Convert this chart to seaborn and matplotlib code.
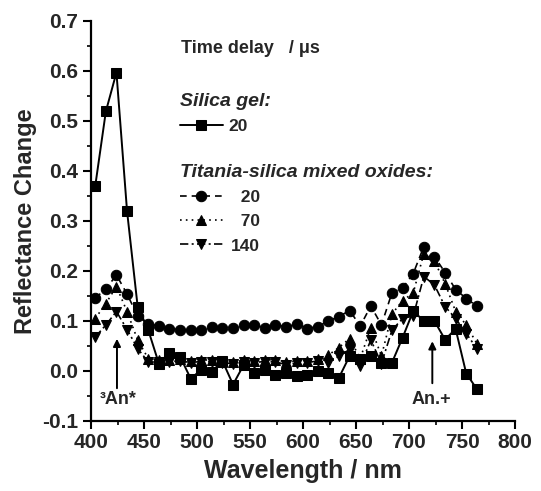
import numpy as np
import pandas as pd
import matplotlib
matplotlib.use("Agg")
import matplotlib.pyplot as plt
import seaborn as sns

# ---------------- data ----------------
wavelength = [404 + 10 * i for i in range(37)]

silica_20 = [0.370, 0.519, 0.597, 0.320, 0.129, 0.082, 0.015, 0.037, 0.029, -0.015,
             0.002, -0.001, 0.020, -0.027, 0.012, -0.003, 0.002, -0.008, -0.004, -0.010,
             -0.008, 0.001, -0.003, -0.013, 0.030, 0.025, 0.030, 0.016, 0.017, 0.067,
             0.120, 0.100, 0.100, 0.063, 0.084, -0.005, -0.036]

titania_20 = [0.146, 0.164, 0.192, 0.154, 0.110, 0.094, 0.090, 0.085, 0.082, 0.082,
              0.083, 0.089, 0.087, 0.087, 0.092, 0.092, 0.087, 0.093, 0.088, 0.094,
              0.085, 0.089, 0.100, 0.109, 0.121, 0.090, 0.130, 0.092, 0.157, 0.166,
              0.195, 0.249, 0.229, 0.197, 0.163, 0.145, 0.130]

titania_70 = [0.105, 0.135, 0.169, 0.119, 0.062, 0.025, 0.022, 0.022, 0.025, 0.020,
              0.022, 0.022, 0.019, 0.018, 0.022, 0.020, 0.022, 0.023, 0.018, 0.020,
              0.020, 0.024, 0.032, 0.047, 0.065, 0.025, 0.087, 0.030, 0.114, 0.141,
              0.156, 0.235, 0.220, 0.175, 0.119, 0.092, 0.055]

titania_140 = [0.068, 0.092, 0.119, 0.083, 0.045, 0.018, 0.018, 0.019, 0.020, 0.017,
               0.019, 0.018, 0.016, 0.015, 0.018, 0.017, 0.019, 0.018, 0.013, 0.016,
               0.017, 0.020, 0.017, 0.030, 0.043, 0.010, 0.062, 0.015, 0.082, 0.105,
               0.110, 0.189, 0.172, 0.129, 0.105, 0.075, 0.045]

x_ticks = [400, 450, 500, 550, 600, 650, 700, 750, 800]
y_ticks = [-0.1, 0.0, 0.1, 0.2, 0.3, 0.4, 0.5, 0.6, 0.7]

# ---------------- style ----------------
sns.set_style("ticks")
plt.rcParams["font.family"] = ["Liberation Sans", "DejaVu Sans"]
plt.rcParams["font.weight"] = "bold"
plt.rcParams["axes.unicode_minus"] = False

fig = plt.figure(figsize=(5.41, 4.91), dpi=100)
ax = fig.add_axes([91 / 541, 70 / 491, 424 / 541, 400 / 491])

df = pd.DataFrame({"wl": wavelength, "s20": silica_20, "t20": titania_20,
                   "t70": titania_70, "t140": titania_140})

sns.lineplot(data=df, x="wl", y="s20", ax=ax, color="black", marker="s",
             markersize=6.5, linewidth=1.4, linestyle="-", errorbar=None,
             markeredgecolor="black")
sns.lineplot(data=df, x="wl", y="t20", ax=ax, color="black", marker="o",
             markersize=7.5, linewidth=1.2, linestyle=(0, (4, 3)), errorbar=None,
             markeredgecolor="black")
sns.lineplot(data=df, x="wl", y="t70", ax=ax, color="black", marker="^",
             markersize=7.5, linewidth=1.2, linestyle=(0, (1, 2.5)), errorbar=None,
             markeredgecolor="black")
sns.lineplot(data=df, x="wl", y="t140", ax=ax, color="black", marker="v",
             markersize=7.5, linewidth=1.2, linestyle=(0, (5, 2, 1.2, 2)), errorbar=None,
             markeredgecolor="black")

lines = ax.get_lines()

ax.set_xlim(400, 800)
ax.set_ylim(-0.1, 0.7)
ax.set_xticks(x_ticks)
ax.set_yticks(y_ticks)
ax.set_xticks(np.arange(425, 800, 50), minor=True)
ax.set_yticks(np.arange(-0.05, 0.7, 0.1), minor=True)
ax.set_yticklabels([f"{v:.1f}" for v in y_ticks])
ax.tick_params(axis="both", which="major", direction="out", length=6, width=1.5,
               labelsize=15, pad=3, color="black")
ax.tick_params(axis="both", which="minor", direction="out", length=3, width=1.2,
               color="black")
for lab in ax.get_xticklabels() + ax.get_yticklabels():
    lab.set_fontweight("bold")

sns.despine(ax=ax)
ax.spines["left"].set_linewidth(1.6)
ax.spines["bottom"].set_linewidth(1.6)
ax.spines["left"].set_color("black")
ax.spines["bottom"].set_color("black")

ax.set_xlabel("Wavelength / nm", fontsize=18, fontweight="bold", labelpad=5)
ax.set_ylabel("Reflectance Change", fontsize=17, fontweight="bold", labelpad=4)

# arrows + band labels
ax.annotate("", xy=(424.5, 0.07), xytext=(424.5, -0.04),
            arrowprops=dict(arrowstyle="-|>", color="black", lw=1.4, mutation_scale=11))
ax.annotate("", xy=(722, 0.065), xytext=(722, -0.03),
            arrowprops=dict(arrowstyle="-|>", color="black", lw=1.4, mutation_scale=11))
ax.text(408, -0.058, "³An*", fontsize=13, fontweight="bold", ha="left", va="center")
ax.text(721, -0.058, "An.+", fontsize=13, fontweight="bold", ha="center", va="center")

# legend
hx = (181 - 91) / 424
ax.text(hx, (421 - 49) / 400, "Time delay   / μs", transform=ax.transAxes,
        fontsize=13, fontweight="bold", ha="left", va="center")

leg1 = ax.legend([lines[0]], ["20"], loc="upper left",
                 bbox_to_anchor=(hx - 0.003, (421 - 93) / 400), frameon=False,
                 title="Silica gel:", alignment="left", borderpad=0, borderaxespad=0,
                 handlelength=2.5, handletextpad=0.3,
                 prop={"weight": "bold", "size": 12.5},
                 title_fontproperties={"weight": "bold", "style": "italic", "size": 14})
ax.add_artist(leg1)
ax.legend(lines[1:4], ["  20", "  70", "140"], loc="upper left",
          bbox_to_anchor=(hx - 0.003, (421 - 164) / 400), frameon=False,
          title="Titania-silica mixed oxides:", alignment="left", borderpad=0,
          borderaxespad=0, handlelength=2.5, handletextpad=0.45, labelspacing=0.52,
          prop={"weight": "bold", "size": 12.5},
          title_fontproperties={"weight": "bold", "style": "italic", "size": 14})

fig.savefig("out.png", dpi=100)
